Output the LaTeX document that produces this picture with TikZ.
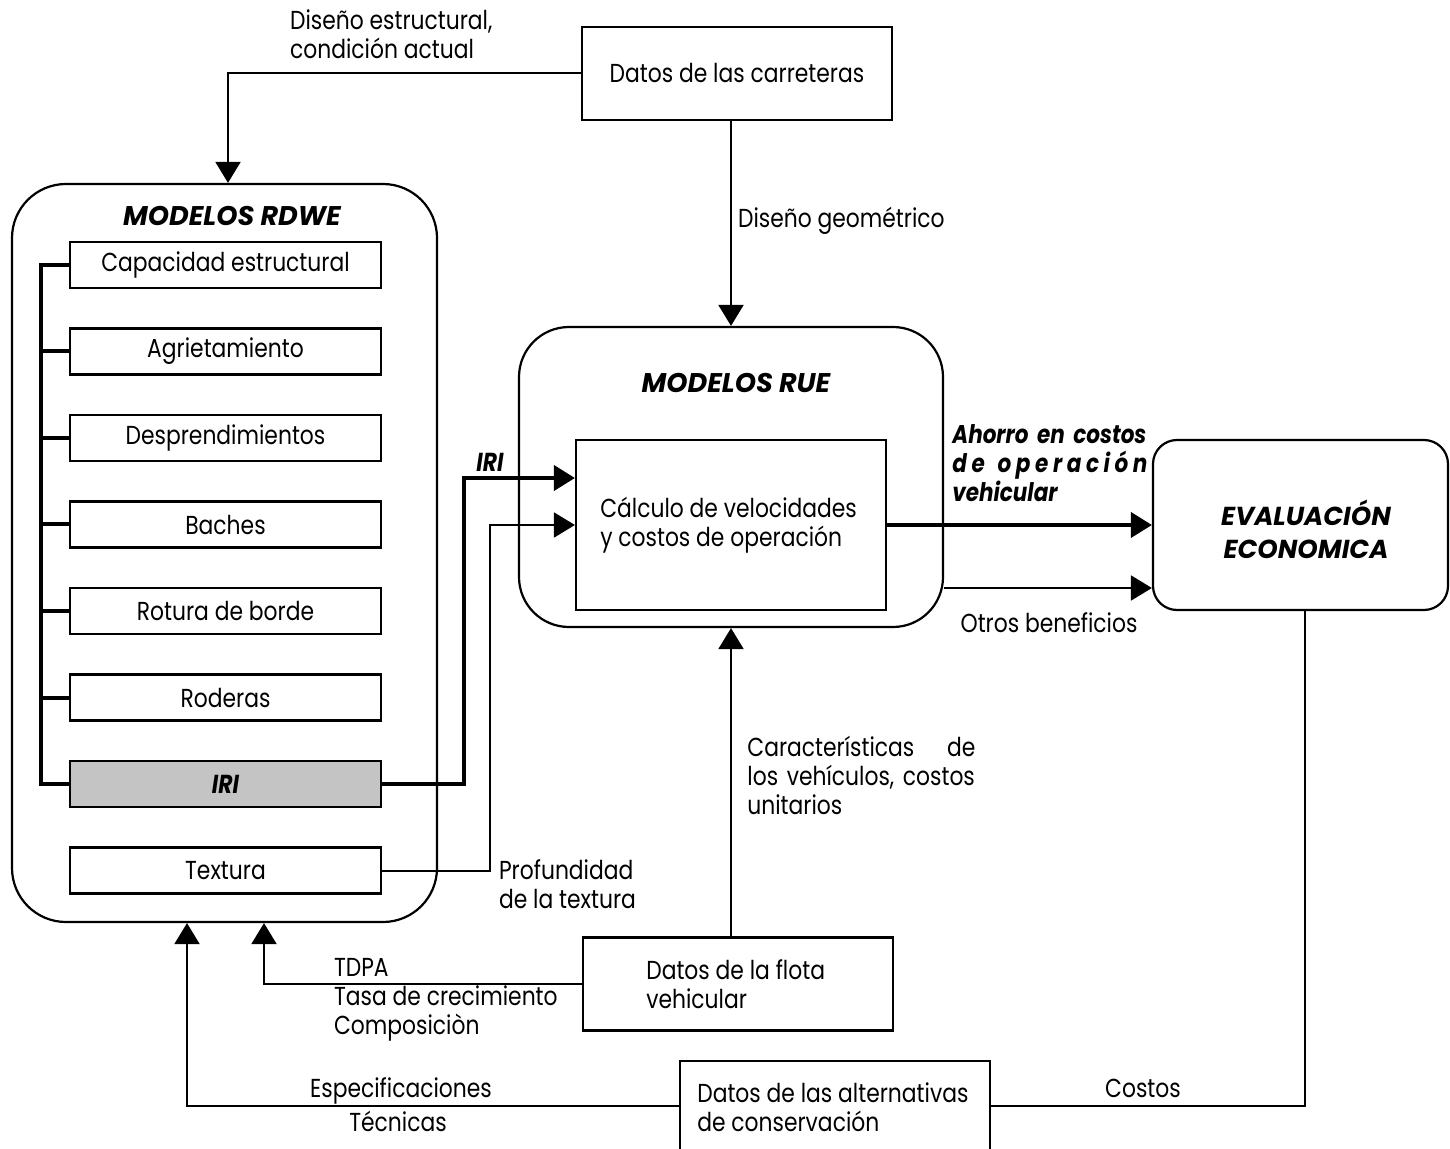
\documentclass[tikz,border=0pt]{standalone}
\usepackage{fontspec}
\setmainfont{Poppins}[FakeStretch=0.84]
\newfontfamily\titfont{Poppins}
\usetikzlibrary{positioning, arrows.meta}
\definecolor{irigris}{gray}{0.77}
\tikzset{
every node/.style={font=\fontsize{13}{14.5}\selectfont}, % default text of the labels
flecha/.style={-{Triangle[length=10.5pt,width=12.5pt]}, line width=1pt}, % thin directed connector
flechagruesa/.style={flecha, line width=2pt}, % bold directed connector
linea/.style={line width=1pt}, % plain connector, no tip
bus/.style={line width=2pt}, % bold bus of the RDWE models
marco/.style={draw, line width=1.1pt, rounded corners=27pt}, % big rounded model frames
fuente/.style={draw, line width=1.1pt, minimum width=155pt, minimum height=46.5pt, inner sep=0pt}, % data boxes
caja/.style={draw, line width=1.1pt, minimum width=155.5pt, minimum height=23pt, inner sep=0pt}, % deterioration boxes
texto/.style={anchor=west, align=left, inner xsep=0pt}, % left set text inside a box
titulo/.style={font=\titfont\fontsize{13.5}{16.5}\selectfont\bfseries\itshape}, % bold italic titles
negrita/.style={font=\fontsize{13}{14.5}\selectfont\bfseries\itshape}, % bold italic labels
}
\begin{document}
\begin{tikzpicture}[x=0.5pt,y=-0.5pt,node distance=43.25pt]
\useasboundingbox (0,0) rectangle (1450,1149);
% frames of the two model groups
\node[marco, minimum width=212.5pt, minimum height=369pt] (rdwe) at (224.5,553) {};
\node[titulo] (rdwetit) at (232,216) {MODELOS RDWE};
\node[marco, rounded corners=25pt, minimum width=212pt, minimum height=150pt] (rue) at (731,477) {};
\node[titulo] (ruetit) at (736,383) {MODELOS RUE};
% deterioration models, one below the other
\node[caja] (cap) at (225.5,265) {Capacidad estructural};
\node[caja] (agr) [below of=cap] {Agrietamiento};
\node[caja] (des) [below of=agr] {Desprendimientos};
\node[caja] (bac) [below of=des] {Baches};
\node[caja] (rot) [below of=bac] {Rotura de borde};
\node[caja] (rod) [below of=rot] {Roderas};
\node[caja, fill=irigris, negrita] (iri) [below of=rod] {IRI};
\node[caja] (tex) [below of=iri] {Textura};
% data boxes and evaluation
\node[fuente] (carr) at (737,73.5) {Datos de las carreteras};
\node[fuente, minimum height=85pt] (calc) at (731,525) {};
\node[texto] (calctxt) at ([xshift=12.5pt]calc.west) {Cálculo de velocidades\\y costos de operación};
\node[marco, rounded corners=12pt, minimum width=147.5pt, minimum height=85pt] (eval) at (1300.5,525) {};
\node[titulo, font=\titfont\fontsize{13}{16.5}\selectfont\bfseries\itshape, align=center] (evaltxt) at (1306,529)
  {EVALUACIÓN\\ECONOMICA};
\node[fuente] (flota) at (738,984) {};
\node[texto] (flotatxt) at ([xshift=32pt]flota.west) {Datos de la flota\\vehicular};
\node[fuente, minimum height=44.5pt] (alt) at (835,1105.5) {};
\node[texto] (alttxt) at ([xshift=9pt,yshift=-1pt]alt.west) {Datos de las alternativas\\de conservación};
% bus joining the deterioration models
\draw[bus] (cap.west) -- ++(-14pt,0) |- (iri.west);
\foreach \m in {agr,des,bac,rot,rod}
  \draw[bus] (\m.west) -- ++(-14pt,0);
% connectors
\draw[flecha] (carr.west) -| ([xshift=1.75pt]rdwe.north);
\draw[flecha] (rue.north |- carr.south) -- (rue.north);
\draw[flechagruesa] (iri.east) -- ++(41pt,0) |- ([yshift=23.5pt]calc.west);
\draw[flecha] (tex.east) -- ++(54pt,0) |- (calc.west);
\draw[flechagruesa] (calc.east) -- (calc.east -| eval.west);
\draw[flecha] ([yshift=-55.5pt]rue.east) -- ([yshift=-55.5pt]rue.east -| eval.west);
\draw[flecha] (rue.south |- flota.north) -- (rue.south);
\draw[flecha] (flota.west) -| ([xshift=19.75pt]rdwe.south);
\draw[flecha] (alt.west) -| ([xshift=-18.75pt]rdwe.south);
\draw[linea] (alt.east) -| ([xshift=2.25pt]eval.south);
% labels of the connectors
\node[anchor=west, align=left] (l1) at (283,34) {Diseño estructural,\\condición actual};
\node[anchor=west] (l2) at (731,221) {Diseño geométrico};
\node[negrita] (l3) at (490,462) {IRI};
\node[anchor=west, align=left] (l4) at (492,884) {Profundidad\\de la textura};
\node[negrita, font=\fontsize{12.8}{14.5}\selectfont\bfseries\itshape, anchor=west, text width=97.5pt, align=left, inner xsep=0pt]
  (l5) at (952,463.5) {Ahorro en costos\\{\addfontfeature{LetterSpace=18}de\hfill operación}\\vehicular};
\node (l6) at (1049,623) {Otros beneficios};
\node[anchor=west, text width=114pt, align=left, inner xsep=0pt] (l7) at (747,775)
  {Características\hfill de\\los vehículos, costos\\unitarios};
\node[anchor=west] (l8) at (327,967) {TDPA};
\node[anchor=west, align=left] (l9) at (327,1013.5) {Tasa de crecimiento\\Composiciòn};
\node (l10) at (401,1091) {Especificaciones};
\node (l11) at (398,1121) {Técnicas};
\node (l12) at (1143,1088) {Costos};
\end{tikzpicture}
\end{document}
